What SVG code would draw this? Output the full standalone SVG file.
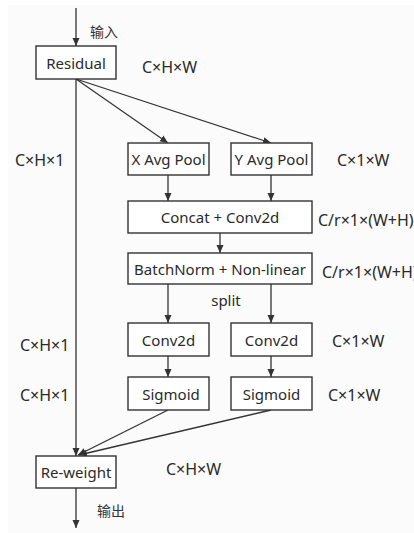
<svg xmlns="http://www.w3.org/2000/svg" width="414" height="533" viewBox="0 0 414 533">
  <defs>
    <marker id="arrow" viewBox="0 0 8 10" refX="8" refY="5" markerWidth="8" markerHeight="10" markerUnits="userSpaceOnUse" orient="auto">
      <path d="M0,1.5 L8,5 L0,8.5 Z" fill="#333"/>
    </marker>
    <style>
      .box { fill: #ffffff; stroke: #333; stroke-width: 1.4; }
      .lbl { font-family: "Noto Sans", "Noto Sans CJK SC", sans-serif; font-size: 15px; fill: #2a2a2a; text-anchor: middle; dominant-baseline: central; }
      .dim { font-family: "Noto Sans", "Noto Sans CJK SC", sans-serif; font-size: 16px; fill: #2a2a2a; dominant-baseline: central; }
      .cn { font-family: "Noto Sans CJK SC", sans-serif; font-size: 14px; fill: #333; dominant-baseline: central; }
      .edge { fill: none; stroke: #333; stroke-width: 1.3; marker-end: url(#arrow); }
    </style>
  </defs>

  <rect x="0" y="0" width="414" height="533" fill="#ffffff"/>
  <rect x="8" y="5" width="406" height="528" fill="#fbfbfb"/>

  <g id="connectors">
    <line class="edge" x1="76" y1="8" x2="76" y2="46"/>
    <line class="edge" x1="76" y1="79" x2="76" y2="456"/>
    <line class="edge" x1="76" y1="79" x2="168" y2="143"/>
    <line class="edge" x1="76" y1="79" x2="271" y2="143"/>
    <line class="edge" x1="168" y1="175" x2="168" y2="201"/>
    <line class="edge" x1="271" y1="175" x2="271" y2="201"/>
    <line class="edge" x1="220" y1="233" x2="220" y2="253"/>
    <line class="edge" x1="168" y1="284" x2="168" y2="323"/>
    <line class="edge" x1="271" y1="284" x2="271" y2="323"/>
    <line class="edge" x1="168" y1="356" x2="168" y2="377"/>
    <line class="edge" x1="271" y1="356" x2="271" y2="377"/>
    <line class="edge" x1="168" y1="410" x2="78" y2="455"/>
    <line class="edge" x1="271" y1="410" x2="79" y2="455"/>
    <line class="edge" x1="76" y1="488" x2="76" y2="528"/>
  </g>

  <g id="residual">
    <rect class="box" x="36" y="46" width="80" height="33"/>
    <text class="lbl" x="76" y="62.5">Residual</text>
  </g>
  <g id="x-avg-pool">
    <rect class="box" x="128" y="143" width="81" height="32"/>
    <text class="lbl" x="168.5" y="159">X Avg Pool</text>
  </g>
  <g id="y-avg-pool">
    <rect class="box" x="231" y="143" width="81" height="32"/>
    <text class="lbl" x="271.5" y="159">Y Avg Pool</text>
  </g>
  <g id="concat-conv">
    <rect class="box" x="128" y="201" width="184" height="32"/>
    <text class="lbl" x="220" y="217">Concat + Conv2d</text>
  </g>
  <g id="bn-act">
    <rect class="box" x="128" y="253" width="184" height="31"/>
    <text class="lbl" x="220" y="268.5">BatchNorm + Non-linear</text>
  </g>
  <g id="conv-h">
    <rect class="box" x="128" y="323" width="81" height="33"/>
    <text class="lbl" x="168.5" y="339.5">Conv2d</text>
  </g>
  <g id="conv-w">
    <rect class="box" x="231" y="323" width="81" height="33"/>
    <text class="lbl" x="271.5" y="339.5">Conv2d</text>
  </g>
  <g id="sigmoid-h">
    <rect class="box" x="128" y="377" width="81" height="33"/>
    <text class="lbl" x="171" y="393.5">Sigmoid</text>
  </g>
  <g id="sigmoid-w">
    <rect class="box" x="231" y="377" width="81" height="33"/>
    <text class="lbl" x="271.5" y="393.5">Sigmoid</text>
  </g>
  <g id="reweight">
    <rect class="box" x="36" y="456" width="80" height="32"/>
    <text class="lbl" x="76" y="472">Re-weight</text>
  </g>

  <g id="labels">
    <text class="cn" x="90" y="31">输入</text>
    <text class="cn" x="97" y="510">输出</text>
    <text class="dim" x="142" y="67">C×H×W</text>
    <text class="dim" x="15" y="160">C×H×1</text>
    <text class="dim" x="337" y="160">C×1×W</text>
    <text class="dim" x="318" y="220">C/r×1×(W+H)</text>
    <text class="dim" x="322" y="272">C/r×1×(W+H)</text>
    <text class="lbl" x="226" y="300">split</text>
    <text class="dim" x="20" y="345">C×H×1</text>
    <text class="dim" x="332" y="341">C×1×W</text>
    <text class="dim" x="20" y="395">C×H×1</text>
    <text class="dim" x="328" y="395">C×1×W</text>
    <text class="dim" x="166" y="469">C×H×W</text>
  </g>
</svg>
